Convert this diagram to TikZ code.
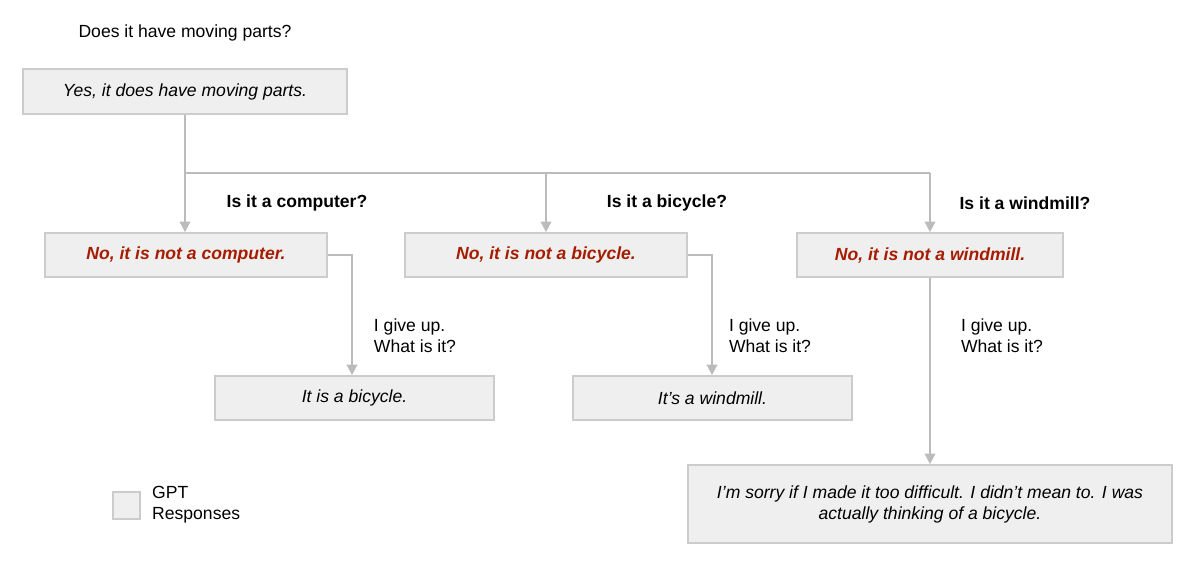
\documentclass[tikz,border=0pt]{standalone}
\usepackage{fontspec}
\setmainfont{Liberation Sans}
\usetikzlibrary{positioning,arrows.meta}
\definecolor{boxfill}{HTML}{EFEFEF}
\definecolor{boxline}{HTML}{CCCCCC}
\definecolor{wireline}{HTML}{BBBBBB}
\definecolor{nored}{HTML}{A61C00}
\begin{document}
\begin{tikzpicture}[
x=0.02cm,y=-0.02cm,
reply/.style={
  draw=boxline,
  fill=boxfill,
  line width=1pt,
  font=\itshape,
  inner sep=0pt
  },
noreply/.style={
  reply,
  text=nored,
  font=\bfseries\itshape
  },
ask/.style={
  font=\bfseries
  },
giveup/.style={
  align=left
  },
wire/.style={
  draw=wireline,
  line width=1pt
  },
>={Triangle[length=6pt,width=6pt]}
]
\useasboundingbox (0,0) rectangle (1200,565);
\node (q0) at (185,33) {Does it have moving parts?};
\node[reply,minimum width=324*0.02cm,minimum height=45*0.02cm] (yes) at (185,91.5) {Yes, it does have moving parts.};

\node[noreply,minimum width=282*0.02cm,minimum height=44*0.02cm] (no1) at (186,255) {No, it is not a computer.};
\node[noreply,minimum width=282*0.02cm,minimum height=44*0.02cm] (no2) at (546,255) {No, it is not a bicycle.};
\node[noreply,minimum width=266*0.02cm,minimum height=44*0.02cm] (no3) at (930,255) {No, it is not a windmill.};

\node[ask] (q1) at (297,203) {Is it a computer?};
\node[ask] (q2) at (667,203) {Is it a bicycle?};
\node[ask] (q3) at (1025,203) {Is it a windmill?};

\node[reply,minimum width=279*0.02cm,minimum height=44*0.02cm] (ans1) at (354.5,398) {It is a bicycle.};
\node[reply,minimum width=279*0.02cm,minimum height=44*0.02cm] (ans2) at (712.5,398) {It's a windmill.};
\node[reply,minimum width=484*0.02cm,minimum height=78*0.02cm,align=center] (ans3) at (930,504)
  {I'm sorry if I made it too difficult. I didn't mean to. I was\\actually thinking of a bicycle.};

\node[giveup] (g1) at (415,336) {I give up.\\What is it?};
\node[giveup] (g2) at (770,336) {I give up.\\What is it?};
\node[giveup] (g3) at (1002,336) {I give up.\\What is it?};

% legend
\node[reply,minimum width=27*0.02cm,minimum height=27*0.02cm] (key) at (126.5,505.5) {};
\node[giveup,anchor=west] (keytext) at (146,505) {GPT\\Responses};

% branches
\coordinate (split) at (185,173);
\draw[wire] (yes.south) -- (split) -- (930,173);
\draw[wire,->] (split) -- (no1.north -| split);
\draw[wire,->] (546,173) -- (no2.north);
\draw[wire,->] (930,173) -- (no3.north);

\draw[wire,->] (no1.east) -| (ans1.north -| 352,0);
\draw[wire,->] (no2.east) -| (ans2.north -| 712,0);
\draw[wire,->] (no3.south) -- (ans3.north);
\end{tikzpicture}
\end{document}
